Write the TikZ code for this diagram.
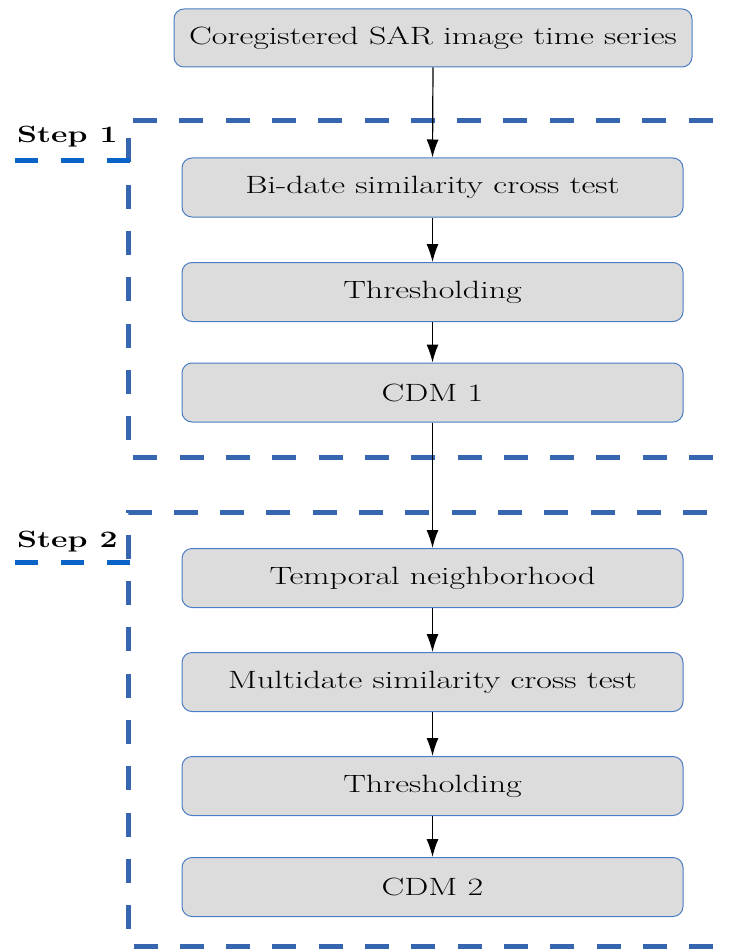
\documentclass[tikz,border=0pt]{standalone}
\usetikzlibrary{arrows.meta}
\definecolor{framec}{HTML}{3666B0}
\definecolor{ulc}{HTML}{0A64C8}
\definecolor{boxfill}{HTML}{DCDCDC}
\definecolor{boxdraw}{HTML}{4A7CC4}
\newcommand{\stx}[1]{\scalebox{1.36}[1]{#1}}
\begin{document}
\begin{tikzpicture}[x=1pt,y=-1pt,
  proc/.style={draw=boxdraw, line width=1pt, fill=boxfill, rounded corners=10pt,
    minimum width=501pt, minimum height=59pt, inner sep=0pt,
    font=\fontsize{25}{29}\selectfont, text=black},
  frame/.style={draw=framec, line width=5pt, dash pattern=on 24pt off 22.3pt},
  uline/.style={draw=ulc, line width=5pt, dash pattern=on 23pt off 23pt},
  steplabel/.style={anchor=base west, inner sep=0pt, font=\fontsize{23.5}{27}\selectfont\bfseries},
  flow/.style={-{Latex[length=18pt,width=12pt]}, line width=1.2pt}]
\useasboundingbox (0,0) rectangle (729,952);
\begin{scope}
  \clip (0,0) rectangle (729,952);
  % Step 1 frame
  \draw[frame, dash phase=30.9pt] (728,121) -- (128,121) -- (128,457) -- (728,457);
  % Step 2 frame
  \draw[frame, dash phase=25.4pt] (728,512) -- (128,512) -- (128,946) -- (728,946);
\end{scope}
% step labels
\node[steplabel] (s1) at (17,143) {\stx{Step 1}};
\node[steplabel] (s2) at (17,547) {\stx{Step 2}};
\coordinate (u1a) at (130,161);
\coordinate (u1b) at (14,161);
\coordinate (u2a) at (130,562);
\coordinate (u2b) at (14,562);
\draw[uline] (u1a) -- (u1b);
\draw[uline] (u2a) -- (u2b);
% boxes
\node[proc, minimum width=518pt, minimum height=58pt] (src) at (433,38) {\stx{Coregistered SAR image time series}};
\node[proc] (bidate) at (432.5,187.5) {\stx{Bi-date similarity cross test}};
\node[proc] (thr1) at (432.5,292) {\stx{Thresholding}};
\node[proc] (cdm1) at (432.5,392.5) {\stx{CDM 1}};
\node[proc] (temp) at (432.5,578) {\stx{Temporal neighborhood}};
\node[proc] (multi) at (432.5,682) {\stx{Multidate similarity cross test}};
\node[proc] (thr2) at (432.5,786) {\stx{Thresholding}};
\node[proc] (cdm2) at (432.5,887) {\stx{CDM 2}};
% arrows
\draw[flow] (src.south) -- (bidate.north);
\draw[flow] (bidate) -- (thr1);
\draw[flow] (thr1) -- (cdm1);
\draw[flow] (cdm1) -- (temp);
\draw[flow] (temp) -- (multi);
\draw[flow] (multi) -- (thr2);
\draw[flow] (thr2) -- (cdm2);
\end{tikzpicture}
\end{document}
